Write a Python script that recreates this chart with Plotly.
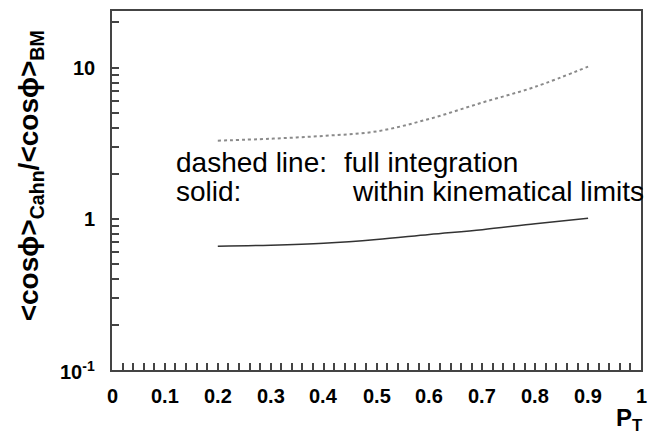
import math
import plotly.graph_objects as go

pt = [0.2, 0.3, 0.4, 0.5, 0.6, 0.7, 0.8, 0.9]
dashed_full = [3.3, 3.4, 3.55, 3.8, 4.6, 5.9, 7.5, 10.2]
solid_kin = [0.66, 0.67, 0.69, 0.73, 0.79, 0.85, 0.93, 1.01]

x_major = [0, 0.1, 0.2, 0.3, 0.4, 0.5, 0.6, 0.7, 0.8, 0.9, 1]
x_major_text = ["0", "0.1", "0.2", "0.3", "0.4", "0.5", "0.6", "0.7", "0.8", "0.9", "1"]
x_minor = [round(i * 0.02, 2) for i in range(51) if i % 5 != 0]
y_major = [0.1, 1, 10]
y_major_text = ["10<sup>-1</sup>", "1", "10"]
y_minor = [0.2, 0.3, 0.4, 0.5, 0.6, 0.7, 0.8, 0.9, 2, 3, 4, 5, 6, 7, 8, 9, 20]

x_tickvals = x_major + x_minor
y_tickvals = y_major + y_minor

W, H = 648, 435
L, R, T, B = 112, 5, 11, 65

fig = go.Figure()
fig.add_trace(go.Scatter(x=pt, y=dashed_full, mode="lines",
                         line=dict(color="#8a8a8a", width=2, dash="3px,3px"),
                         line_shape="spline", showlegend=False))
fig.add_trace(go.Scatter(x=pt, y=solid_kin, mode="lines",
                         line=dict(color="#333333", width=1.5),
                         line_shape="spline", showlegend=False))

FAM = "Liberation Sans, Arial, sans-serif"
font_b = dict(family=FAM, size=20, color="black")
TC = "#444444"

fig.update_layout(
    width=W, height=H,
    margin=dict(l=L, r=R, t=T, b=B),
    plot_bgcolor="white",
    xaxis=dict(range=[0, 1], tickvals=x_tickvals, ticktext=[""] * len(x_tickvals),
               ticks="inside", ticklen=7, tickwidth=1.5, tickcolor=TC,
               showline=True, linecolor=TC, linewidth=2, mirror=True,
               showgrid=False, zeroline=False, tickfont=font_b),
    yaxis=dict(type="log", range=[-1, 1.377], tickvals=y_tickvals, ticktext=[""] * len(y_tickvals),
               ticks="inside", ticklen=7, tickwidth=1.5, tickcolor=TC,
               showline=True, linecolor=TC, linewidth=2, mirror=True,
               showgrid=False, zeroline=False, tickfont=font_b),
)

pw = W - L - R
ph = H - T - B
def px(xp):
    return (xp - L) / pw
def py(yp):
    return (H - B - yp) / ph

# tick labels, placed through the axis scales
for v, t in zip(x_major, x_major_text):
    fig.add_annotation(xref="x", yref="paper", x=v, y=py(396), xanchor="center", yanchor="middle",
                       text="<b>%s</b>" % t, showarrow=False, font=font_b)
for v, t in zip(y_major, y_major_text):
    fig.add_annotation(xref="paper", yref="y", x=px(97), y=math.log10(v), xanchor="right", yanchor="middle",
                       text="<b>%s</b>" % t, showarrow=False, font=font_b)

fig.add_annotation(xref="paper", yref="paper", x=px(30), y=py(176), textangle=-90,
                   xanchor="center", yanchor="middle",
                   text="<b>&lt;cosϕ&gt;<sub>Cahn</sub>/&lt;cosϕ&gt;<sub>BM</sub></b>",
                   showarrow=False, font=dict(family=FAM, size=28, color="black"))
fig.add_annotation(xref="paper", yref="paper", x=px(631), y=py(419),
                   xanchor="center", yanchor="middle",
                   text="<b>P<sub>T</sub></b>", showarrow=False,
                   font=dict(family=FAM, size=24, color="black"))

tf = dict(family=FAM, size=28, color="black")
fig.add_annotation(xref="paper", yref="paper", x=px(174), y=py(162), xanchor="left", yanchor="middle",
                   text="dashed line:", showarrow=False, font=tf)
fig.add_annotation(xref="paper", yref="paper", x=px(343), y=py(162), xanchor="left", yanchor="middle",
                   text="full integration", showarrow=False, font=tf)
fig.add_annotation(xref="paper", yref="paper", x=px(174), y=py(192), xanchor="left", yanchor="middle",
                   text="solid:", showarrow=False, font=tf)
fig.add_annotation(xref="paper", yref="paper", x=px(351), y=py(192), xanchor="left", yanchor="middle",
                   text="within kinematical limits", showarrow=False, font=tf)

fig.write_html("out.html")
